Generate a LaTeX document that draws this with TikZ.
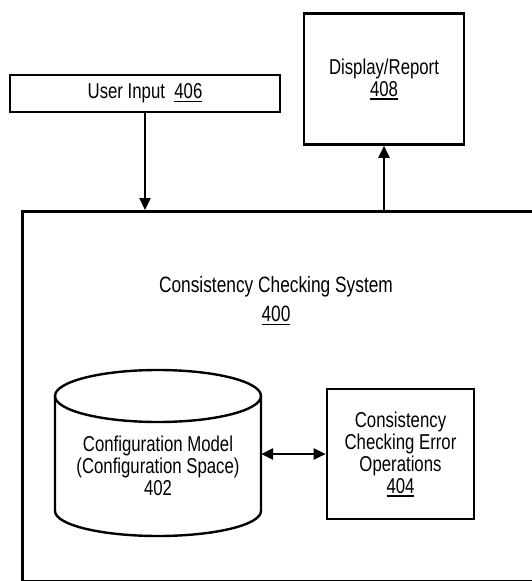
\documentclass[tikz,border=0pt]{standalone}
\usepackage{fontspec}
\setmainfont[FakeStretch=0.78]{Liberation Sans}
\usetikzlibrary{arrows.meta}
\newcommand\unum[1]{\setbox0\hbox{#1}\rlap{\rule[-3.5pt]{\wd0}{1.4pt}}\box0}
\newcommand\txt{\fontsize{21.5}{22}\selectfont}
\newcommand\txtbig{\fontsize{22.2}{22}\selectfont}
\begin{document}
\begin{tikzpicture}[x=1pt,y=-1pt,
  box/.style={draw, line width=2.6pt, inner sep=0pt, align=center, font=\txt},
  arr/.style={line width=2.2pt, -{Triangle[length=12pt,width=11pt]}},
  darr/.style={line width=2.4pt, {Triangle[length=12pt,width=11pt]}-{Triangle[length=12pt,width=11pt]}},
  lbl/.style={inner sep=0pt, align=center, font=\txt}]
\useasboundingbox (0,0) rectangle (532,581);
\clip (0,0) rectangle (532,581);
\fill[white] (0,0) rectangle (532,581);

\node[box, minimum width=270pt, minimum height=37pt] (ui) at (145,93.5) {User Input\ \ \unum{406}};
\node[box, minimum width=160pt, minimum height=131pt] (disp) at (384,79) {Display/Report\\\unum{408}};
\node[draw, line width=2.6pt, anchor=north west, inner sep=0pt, minimum width=540pt, minimum height=370pt] (sys) at (21,210) {};
\node[lbl, font=\txtbig] (syslbl) at (276,301) {Consistency Checking System\\[7pt]\unum{400}};

\draw[line width=2.4pt] (55,396) -- (55,511) arc[start angle=180, end angle=0, x radius=103, y radius=25] -- (261,396);
\draw[line width=2.4pt] (158,396) ellipse[x radius=103, y radius=26];
\node[lbl, minimum width=206pt] (cyl) at (158,466) {Configuration Model\\(Configuration Space)\\402};

\node[box, minimum width=147pt, minimum height=130pt] (err) at (400.5,454) {Consistency\\Checking Error\\Operations\\\unum{404}};

\draw[arr] (ui.south) -- (ui.south |- sys.north);
\draw[arr] (disp.south |- sys.north) -- (disp.south);
\draw[darr] (cyl.east |- err.west) -- (err.west);
\end{tikzpicture}
\end{document}
